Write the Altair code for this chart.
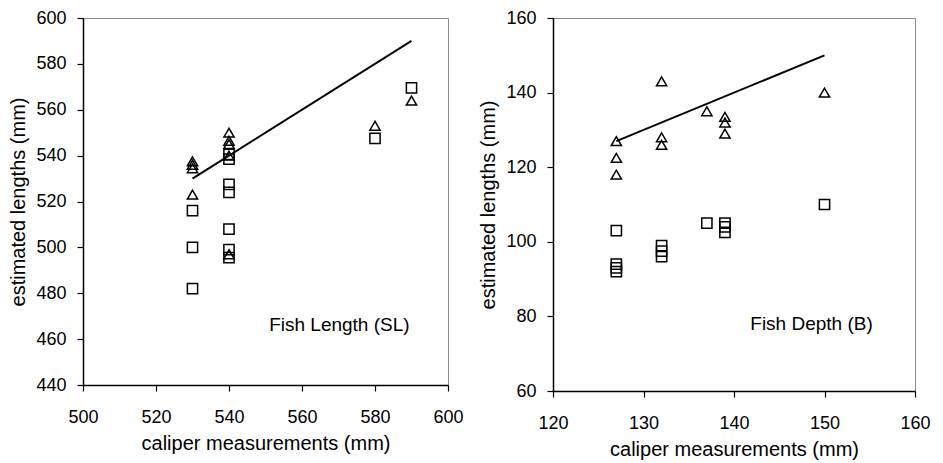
import altair as alt
import pandas as pd

FONT = "Liberation Sans"

# Left panel: Fish Length (SL)
L_tri_x = [530, 530, 530, 530, 540, 540, 540, 540, 540, 580, 590]
L_tri_y = [537.5, 536, 534.5, 523, 550, 546.5, 545, 540, 497, 553, 564]
L_sq_x = [530, 530, 530, 540, 540, 540, 540, 540, 540, 540, 580, 590]
L_sq_y = [516, 500, 482, 540.5, 538.5, 527.5, 524, 508, 499, 495.5, 547.5, 569.5]
L_line_x = [530, 590]
L_line_y = [530, 590]
L_label = "Fish Length (SL)"
L_label_pos = (551, 466)

# Right panel: Fish Depth (B)
R_tri_x = [127, 127, 127, 132, 132, 132, 137, 139, 139, 139, 150]
R_tri_y = [127, 122.5, 118, 143, 128, 126, 135, 133.5, 132, 129, 140]
R_sq_x = [127, 127, 127, 127, 132, 132, 132, 137, 139, 139, 139, 150]
R_sq_y = [103, 94, 93, 92, 99, 97.5, 96, 105, 105, 104, 102.5, 110]
R_line_x = [127, 150]
R_line_y = [127, 150]
R_label = "Fish Depth (B)"
R_label_pos = (141.8, 78)

X_TITLE = "caliper measurements (mm)"
Y_TITLE = "estimated lengths (mm)"


def panel(tri_x, tri_y, sq_x, sq_y, line_x, line_y, label, label_pos,
          xdom, xstep, ydom, ystep, w, h):
    pts = pd.DataFrame({
        "x": tri_x + sq_x,
        "y": tri_y + sq_y,
        "s": ["tri"] * len(tri_x) + ["sq"] * len(sq_x),
    })
    xvals = list(range(xdom[0], xdom[1] + 1, xstep))
    yvals = list(range(ydom[0], ydom[1] + 1, ystep))
    xenc = alt.X("x:Q", scale=alt.Scale(domain=xdom, nice=False, zero=False),
                 axis=alt.Axis(values=xvals, title=X_TITLE, labelPadding=17,
                               titlePadding=7, labelFlush=False))
    yenc = alt.Y("y:Q", scale=alt.Scale(domain=ydom, nice=False, zero=False),
                 axis=alt.Axis(values=yvals, title=Y_TITLE, labelPadding=11,
                               titlePadding=7, labelFlush=False))
    points = alt.Chart(pts).mark_point(
        filled=False, color="black", size=105, strokeWidth=1.5, opacity=1
    ).encode(
        x=xenc, y=yenc,
        shape=alt.Shape("s:N", scale=alt.Scale(domain=["tri", "sq"],
                                                range=["triangle-up", "square"]),
                        legend=None),
    )
    ln = alt.Chart(pd.DataFrame({"x": line_x, "y": line_y})).mark_line(
        color="black", strokeWidth=2
    ).encode(x="x:Q", y="y:Q")
    txt = alt.Chart(pd.DataFrame({"x": [label_pos[0]], "y": [label_pos[1]],
                                  "t": [label]})).mark_text(
        align="left", baseline="middle", fontSize=19, font=FONT, color="black"
    ).encode(x="x:Q", y="y:Q", text="t:N")
    return alt.layer(points, ln, txt).properties(width=w, height=h)


left = panel(L_tri_x, L_tri_y, L_sq_x, L_sq_y, L_line_x, L_line_y, L_label,
             L_label_pos, [500, 600], 20, [440, 600], 20, 365, 367)
right = panel(R_tri_x, R_tri_y, R_sq_x, R_sq_y, R_line_x, R_line_y, R_label,
              R_label_pos, [120, 160], 10, [60, 160], 20, 362, 373)

chart = alt.hconcat(left, right, spacing=14).properties(
    padding={"left": 0, "top": 0, "right": 0, "bottom": 0},
    background="white",
).configure_view(
    stroke="#8a8a8a", strokeWidth=1
).configure_axis(
    grid=False, domainColor="black", domainWidth=1.5, tickColor="black",
    tickSize=6, tickWidth=1.2, labelFont=FONT, titleFont=FONT,
    labelFontSize=18, titleFontSize=20, labelColor="black", titleColor="black",
    titleFontWeight="normal",
)

chart.save("out.html", embed_options={"renderer": "svg", "actions": False})
